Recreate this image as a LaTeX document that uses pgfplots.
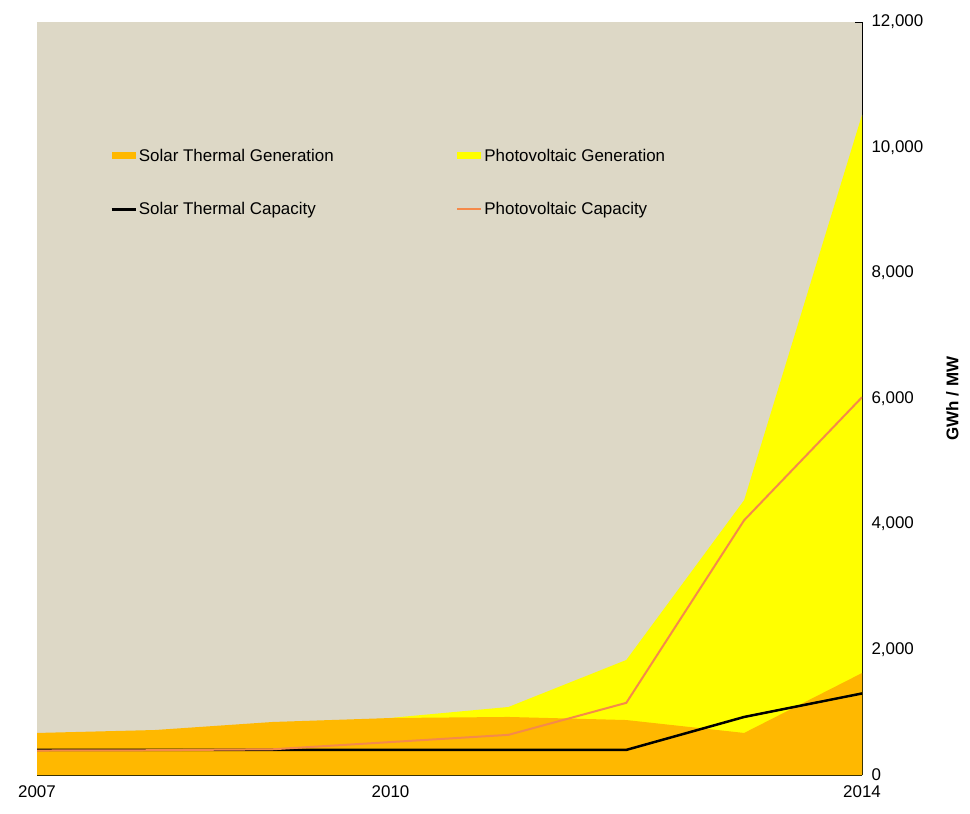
\documentclass[border=0pt]{standalone}
\usepackage{pgfplots}
\pgfplotsset{compat=1.18}
\usepackage{fontspec}
\setmainfont{Liberation Sans}
\definecolor{bg}{HTML}{DDD8C6}
\definecolor{stg}{HTML}{FFB800}
\definecolor{pvg}{HTML}{FFFF00}
\definecolor{pvc}{HTML}{F58A4A}
\pgfplotsset{
  boxlegend/.style={legend image code/.code={\fill[##1] (0cm,-0.12cm) rectangle (0.85cm,0.12cm);}},
  linelegend/.style={legend image code/.code={\draw[##1] (0cm,0cm) -- (0.85cm,0cm);}},
}
\begin{document}
\begin{tikzpicture}
\begin{axis}[name=ax,
  scale only axis, width=825bp, height=753bp,
  xmin=2007, xmax=2014, ymin=0, ymax=12000,
  axis y line*=right, axis x line*=bottom,
  axis background/.style={fill=bg},
  xtick={2007,2010,2014}, minor xtick={2008,2009,2011,2012,2013},
  xticklabel style={/pgf/number format/1000 sep=, yshift=-7pt},
  scaled y ticks=false,
  yticklabel style={/pgf/number format/1000 sep={,}, xshift=6pt},
  ytick={0,2000,...,12000},
  /pgf/number format/assume math mode=true,
  tick label style={font=\fontsize{17}{20}\selectfont},
  ylabel={\textbf{GWh / MW}}, ylabel style={font=\fontsize{17}{20}\selectfont, yshift=-16pt},
  tick style={black}, major tick length=7pt, minor tick length=7pt,
  legend style={at={(0.085,0.837)}, anchor=north west, draw=none, fill=none,
    font=\fontsize{17}{20}\selectfont, row sep=36pt,
    /tikz/every even column/.append style={column sep=121pt}},
  legend columns=2,
  legend cell align=left,
]
\addplot[draw=none, fill=pvg, forget plot] coordinates {(2007,600) (2008,650) (2009,750) (2010,910) (2011,1084) (2012,1833) (2013,4380) (2014,10520)} \closedcycle;
\addplot[draw=none, fill=stg, boxlegend] coordinates {(2007,670) (2008,717) (2009,845) (2010,908) (2011,925) (2012,876) (2013,670) (2014,1625)} \closedcycle;
\addlegendentry{Solar Thermal Generation}
\addlegendimage{draw=none, fill=pvg, boxlegend}
\addlegendentry{Photovoltaic Generation}
\addplot[black, line width=2.5pt, linelegend] coordinates {(2007,400) (2008,400) (2009,400) (2010,400) (2011,400) (2012,400) (2013,925) (2014,1300)};
\addlegendentry{Solar Thermal Capacity}
\addplot[pvc, line width=2pt, linelegend] coordinates {(2007,390) (2008,395) (2009,410) (2010,525) (2011,640) (2012,1150) (2013,4060) (2014,6020)};
\addlegendentry{Photovoltaic Capacity}
\end{axis}
\pgfresetboundingbox
\useasboundingbox ([shift={(-37bp,-38bp)}]ax.south west) rectangle ([shift={(108bp,22bp)}]ax.north east);
\end{tikzpicture}
\end{document}
